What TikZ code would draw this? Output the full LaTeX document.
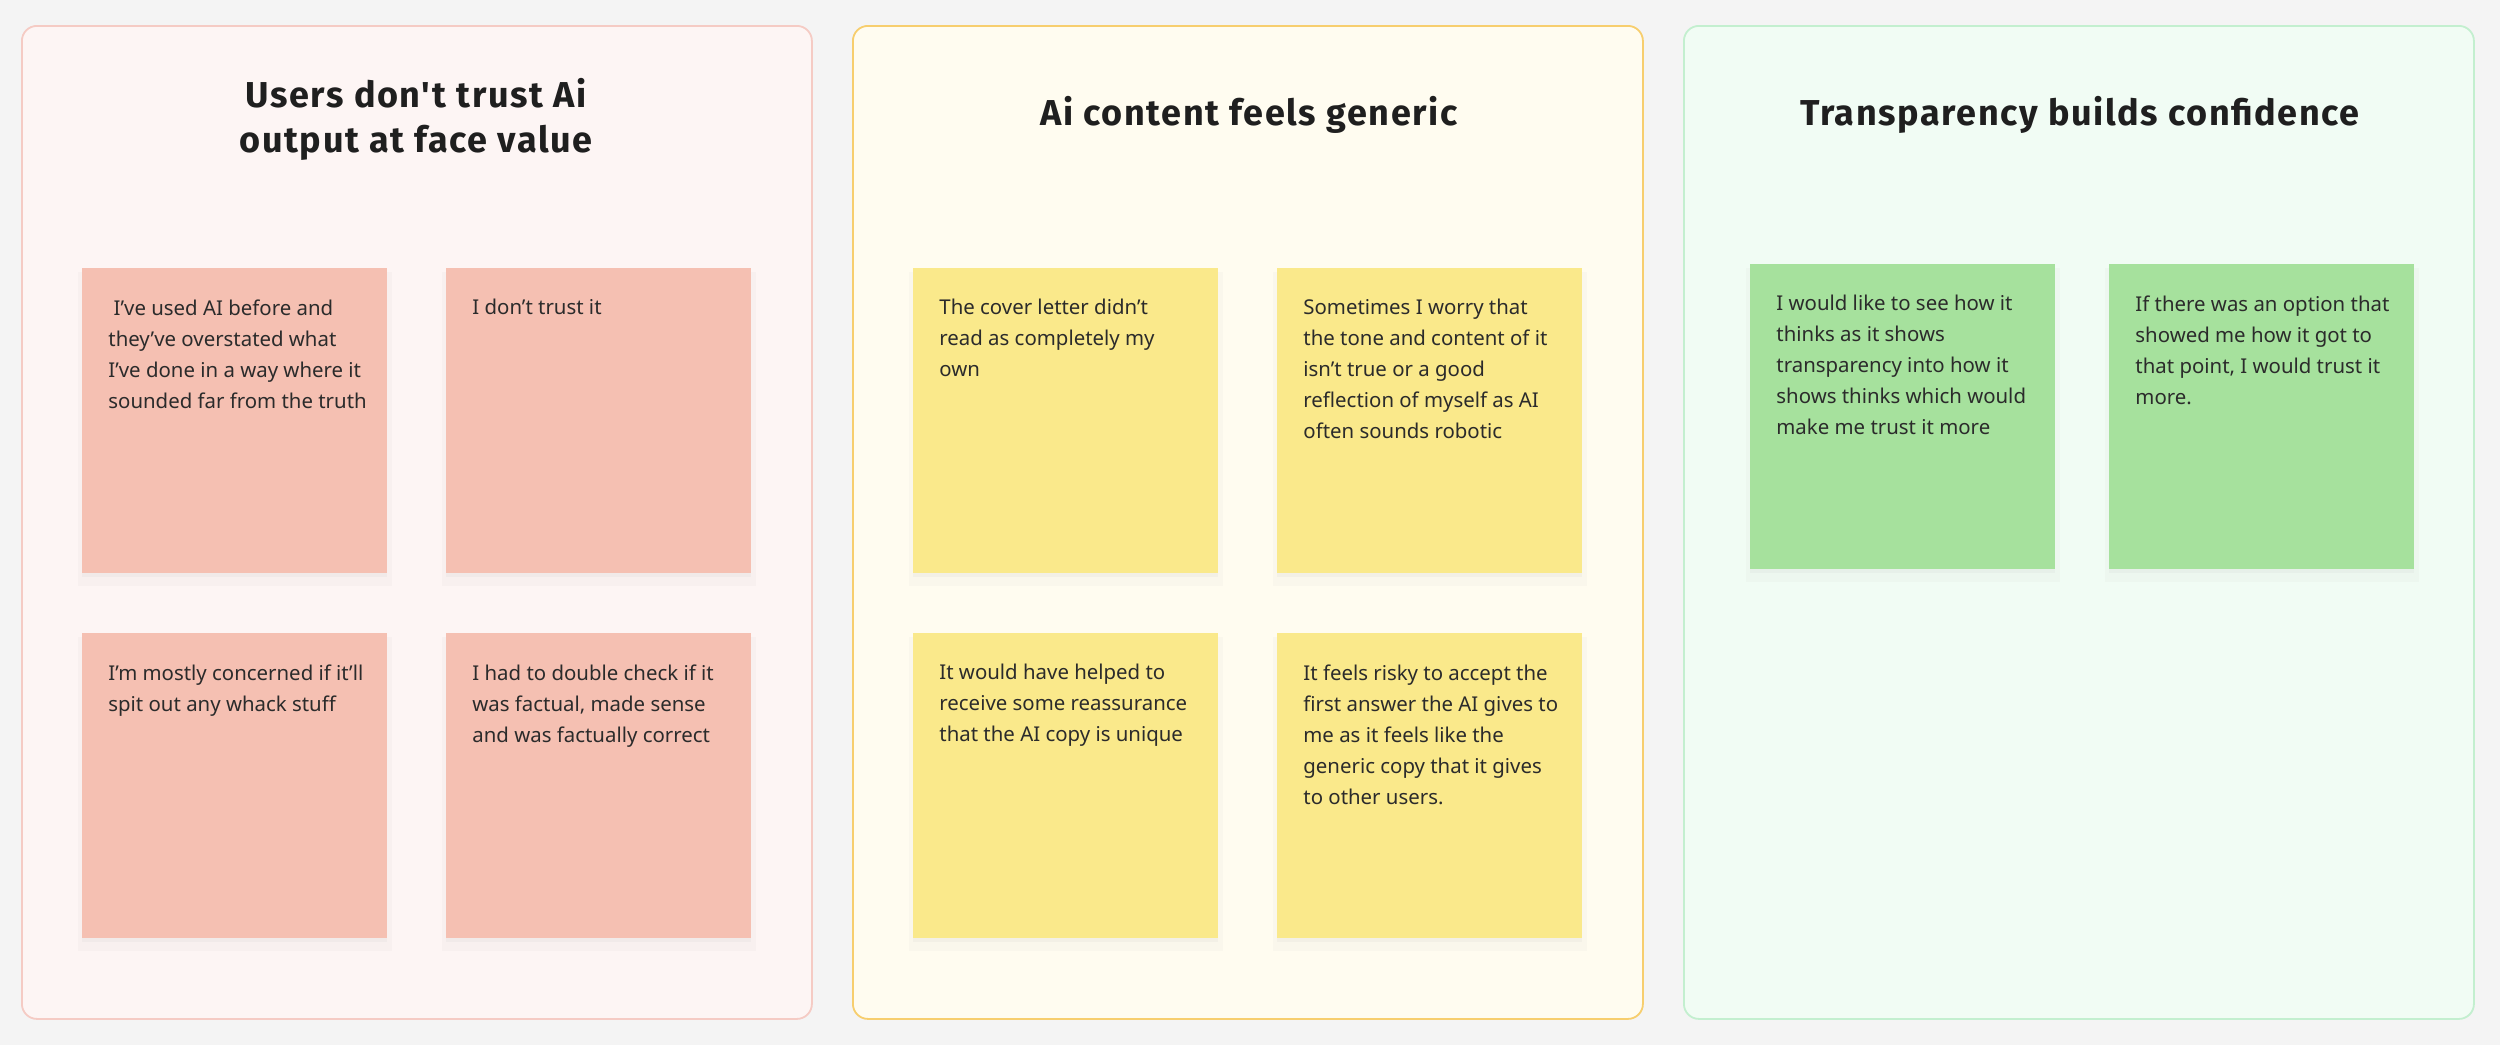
\documentclass[tikz,border=0pt]{standalone}
\usepackage{fontspec}
\setmainfont{Noto Sans}
\newfontfamily\titlefont{Fira Sans}[LetterSpace=4.5]
\usetikzlibrary{positioning,shadows}

% board colours
\definecolor{canvas}{HTML}{F4F4F4}
\definecolor{inkgray}{HTML}{2B2B2B}
\definecolor{redbg}{HTML}{FDF5F4}
\definecolor{redline}{HTML}{F5CBC4}
\definecolor{rednote}{HTML}{F5C0B2}
\definecolor{yellowbg}{HTML}{FFFCF0}
\definecolor{yellowline}{HTML}{F7CE6E}
\definecolor{yellownote}{HTML}{FAE98B}
\definecolor{greenbg}{HTML}{F1FCF4}
\definecolor{greenline}{HTML}{C3EFCF}
\definecolor{greennote}{HTML}{A6E19D}

\tikzset{
  panel/.style={draw=#1line, fill=#1bg, line width=0.9pt, rounded corners=7.5pt,
    minimum width=395pt, minimum height=496.5pt, anchor=north west, inner sep=0pt},
  sticky/.style={fill=#1note, minimum width=152.5pt, minimum height=152.5pt,
    anchor=north west, inner sep=0pt,
    drop shadow={shadow xshift=0pt, shadow yshift=-4pt, shadow scale=1.03, opacity=0.035},
    drop shadow={shadow xshift=0pt, shadow yshift=-2pt, opacity=0.05}},
  notetext/.style={anchor=north west, align=left, inner sep=0pt, text=inkgray,
    font=\fontsize{10.2}{15.5}\selectfont},
  heading/.style={text=black!88, align=center,
    font=\titlefont\bfseries\fontsize{18}{22.5}\selectfont},
}

\begin{document}
\begin{tikzpicture}[x=0.5pt, y=-0.5pt]
    \useasboundingbox[fill=canvas] (0,0) rectangle (2500,1045);

    % Panels
    \node[panel=red] (trustpanel) at (21,25) {};
    \node[panel=yellow] (genericpanel) at (852,25) {};
    \node[panel=green] (clearpanel) at (1683,25) {};

    % Headings
    \node[heading] (trusthead) at (416,119) {Users don't trust Ai\\output at face value};
    \node[heading] (generichead) at (1249,115) {Ai content feels generic};
    \node[heading] (clearhead) at (2080,115) {Transparency builds confidence};

    % Red notes - trust
    \node[sticky=red] (trusta) at (82,268) {};
    \node[sticky=red] (trustb) at (446,268) {};
    \node[sticky=red] (trustc) at (82,633) {};
    \node[sticky=red] (trustd) at (446,633) {};
    \node[notetext] (trustatext) at ([xshift=13pt,yshift=-15.5pt]trusta.north west)
        {\ I’ve used AI before and\\they’ve overstated what\\I’ve done in a way where it\\sounded far from the truth};
    \node[notetext] (trustbtext) at ([xshift=13pt,yshift=-15.5pt]trustb.north west)
        {I don’t trust it};
    \node[notetext] (trustctext) at ([xshift=13pt,yshift=-15.5pt]trustc.north west)
        {I’m mostly concerned if it’ll\\spit out any whack stuff};
    \node[notetext] (trustdtext) at ([xshift=13pt,yshift=-15.5pt]trustd.north west)
        {I had to double check if it\\was factual, made sense\\and was factually correct};

    % Yellow notes - generic
    \node[sticky=yellow] (generica) at (913,268) {};
    \node[sticky=yellow] (genericb) at (1277,268) {};
    \node[sticky=yellow] (genericc) at (913,633) {};
    \node[sticky=yellow] (genericd) at (1277,633) {};
    \node[notetext] (genericatext) at ([xshift=13pt,yshift=-15.5pt]generica.north west)
        {The cover letter didn’t\\read as completely my\\own};
    \node[notetext] (genericbtext) at ([xshift=13pt,yshift=-15.5pt]genericb.north west)
        {Sometimes I worry that\\the tone and content of it\\isn’t true or a good\\reflection of myself as AI\\often sounds robotic};
    \node[notetext] (generictext) at ([xshift=13pt,yshift=-15.5pt]genericc.north west)
        {It would have helped to\\receive some reassurance\\that the AI copy is unique};
    \node[notetext] (genericdtext) at ([xshift=13pt,yshift=-15.5pt]genericd.north west)
        {It feels risky to accept the\\first answer the AI gives to\\me as it feels like the\\generic copy that it gives\\to other users.};

    % Green notes - transparency
    \node[sticky=green] (cleara) at (1750,264) {};
    \node[sticky=green] (clearb) at (2109,264) {};
    \node[notetext] (clearatext) at ([xshift=13pt,yshift=-15.5pt]cleara.north west)
        {I would like to see how it\\thinks as it shows\\transparency into how it\\shows thinks which would\\make me trust it more};
    \node[notetext] (clearbtext) at ([xshift=13pt,yshift=-15.5pt]clearb.north west)
        {If there was an option that\\showed me how it got to\\that point, I would trust it\\more.};
\end{tikzpicture}
\end{document}
